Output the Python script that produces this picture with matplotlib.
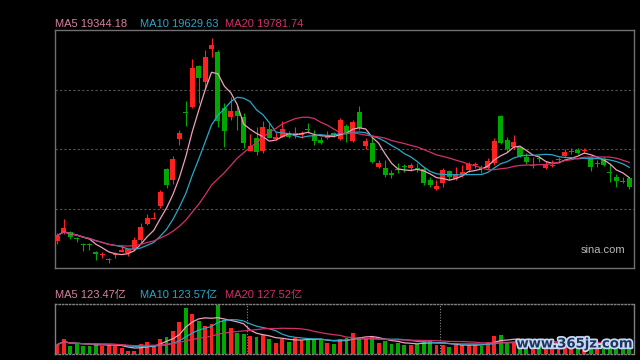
import numpy as np
import pandas as pd
import matplotlib
matplotlib.use("Agg")
import matplotlib.pyplot as plt
import matplotlib.patheffects as pe

# daily OHLC (index points) and volume (亿)
open_ = [17430, 17650, 17680, 17480, 17310, 17310, 17090, 16990, 16840, 16990,
         17100, 17050, 17190, 17450, 17940, 18070, 18470, 19580, 19250, 20480,
         21280, 21430, 22670, 22200, 23180, 23100, 21400, 21150, 21320, 21150,
         20130, 20520, 20130, 20770, 20470, 20550, 20670, 20640, 20600, 20780,
         20600, 20450, 20500, 20650, 20470, 20870, 20430, 21280, 20280, 20370,
         19650, 19600, 19470, 19580, 19660, 19610, 19590, 19570, 19250, 18990,
         19150, 19520, 19290, 19400, 19550, 19690, 19590, 19600, 19750, 21170,
         20450, 20250, 20250, 19950, 19660, 19890, 19600, 19670, 19840, 19970,
         20090, 20150, 20120, 19930, 19720, 19870, 19480, 19350, 19210, 19300]
high = [17650, 18070, 17710, 17540, 17350, 17370, 17120, 17100, 16910, 17090,
        17300, 17190, 17530, 17950, 18230, 18290, 18950, 19600, 19960, 20750,
        21630, 22880, 22700, 23150, 23500, 23150, 21550, 21750, 21500, 21260,
        20630, 20850, 21030, 20950, 20700, 21020, 20730, 20850, 20730, 20970,
        20750, 20550, 20730, 20700, 21100, 20930, 21050, 21470, 20500, 20550,
        19850, 19850, 19550, 19770, 19730, 19750, 19770, 19650, 19350, 19250,
        19600, 19550, 19650, 19700, 19800, 19800, 19700, 19900, 20500, 21200,
        20530, 20600, 20270, 20050, 19930, 19970, 19830, 19850, 19950, 20170,
        20200, 20220, 20200, 19970, 19850, 19930, 19730, 19430, 19350, 19330]
low = [17330, 17620, 17470, 17390, 17130, 17150, 16850, 16900, 16750, 16900,
       17100, 16970, 17150, 17400, 17910, 18070, 18420, 19010, 19140, 20300,
       20870, 21400, 21570, 21950, 22950, 20850, 20230, 21050, 20750, 20210,
       20120, 20000, 20070, 20500, 20450, 20530, 20500, 20500, 20500, 20650,
       20300, 20330, 20470, 20550, 20450, 20400, 20400, 20750, 20170, 19750,
       19600, 19350, 19300, 19450, 19500, 19530, 19500, 19100, 19030, 18950,
       19030, 19250, 19250, 19330, 19500, 19600, 19470, 19570, 19700, 20330,
       20100, 20170, 19930, 19720, 19600, 19800, 19570, 19650, 19750, 19950,
       20030, 20030, 20050, 19530, 19630, 19670, 19200, 19050, 19170, 18970]
close = [17580, 17810, 17540, 17470, 17290, 17290, 17030, 17000, 16860, 17010,
         17160, 17170, 17450, 17850, 18120, 18100, 18890, 19100, 19880, 20650,
         21260, 22600, 22300, 22950, 23300, 21030, 20730, 21330, 21180, 20360,
         20270, 20100, 20830, 20520, 20530, 20770, 20550, 20660, 20670, 20760,
         20430, 20370, 20600, 20600, 21050, 20650, 20980, 20800, 20420, 19800,
         19770, 19400, 19390, 19560, 19640, 19690, 19570, 19170, 19100, 19080,
         19550, 19330, 19400, 19500, 19730, 19710, 19570, 19820, 20430, 20350,
         20170, 20400, 19970, 19780, 19680, 19870, 19730, 19690, 19860, 20100,
         20110, 20070, 20140, 19630, 19740, 19700, 19460, 19230, 19190, 19030]
volume = [112, 184, 100, 120, 100, 100, 132, 100, 112, 91,
          76, 40, 40, 124, 148, 100, 184, 208, 280, 388,
          556, 484, 400, 340, 364, 592, 403, 316, 256, 244,
          220, 208, 232, 184, 136, 184, 148, 196, 172, 172,
          184, 172, 136, 124, 180, 196, 256, 208, 184, 204,
          136, 160, 124, 136, 112, 112, 124, 160, 160, 112,
          112, 88, 112, 112, 112, 112, 100, 148, 220, 232,
          136, 148, 150, 130, 120, 115, 125, 120, 140, 130,
          125, 110, 120, 140, 124, 115, 130, 120, 112, 140]

price_legend = ["MA5 19344.18", "MA10 19629.63", "MA20 19781.74"]
vol_legend = ["MA5 123.47亿", "MA10 123.57亿", "MA20 127.52亿"]

df = pd.DataFrame({"open": open_, "high": high, "low": low, "close": close, "vol": volume})
x = np.arange(len(df))
up = df.close >= df.open

RED = "#ff2020"
GREEN = "#00a800"
MA_COLORS = ["#eea0bc", "#27a8c8", "#d3306a"]
LEG_COLORS = ["#d8829e", "#2aa6c6", "#d0306a"]
FONT = ["Liberation Sans", "Noto Sans CJK SC"]

fig = plt.figure(figsize=(6.4, 3.6), dpi=100, facecolor="black")
ax = fig.add_axes([55 / 640, 1 - 268 / 360, 579 / 640, 238 / 360], facecolor="black")
axv = fig.add_axes([55 / 640, 1 - 354 / 360, 579 / 640, 50 / 360], facecolor="black")

colors = np.where(up, RED, GREEN)

# candles
ax.vlines(x, df.low, df.high, colors=colors, linewidth=0.8, zorder=2)
body_low = np.minimum(df.open, df.close)
body_h = np.maximum(np.abs(df.close - df.open), 28)
ax.bar(x, body_h, bottom=body_low, width=0.78, color=colors, linewidth=0, zorder=3)

for n, c in zip([5, 10, 20], MA_COLORS):
    ax.plot(x, df.close.rolling(n, min_periods=1).mean(), color=c, linewidth=0.9, zorder=4)

for yv in [21965, 20180, 18395]:
    ax.axhline(yv, color="#555555", linewidth=0.8, linestyle=(0, (2, 2)), zorder=1)

ax.set_xlim(-0.36, 89.74)
ax.set_ylim(16610, 23750)
ax.set_xticks([])
ax.set_yticks([])
for s in ax.spines.values():
    s.set_color("#707070")
    s.set_linewidth(1)
ax.text(0.985, 0.075, "sina.com", transform=ax.transAxes, ha="right", va="center",
        color="#b8b8b8", fontsize=8, family=FONT)

# volume
axv.bar(x, df.vol, width=0.6, color=colors, linewidth=0, zorder=2)
for n, c in zip([5, 10, 20], MA_COLORS):
    axv.plot(x, df.vol.rolling(n, min_periods=1).mean(), color=c, linewidth=0.9, zorder=3)
for xv in [29.5, 59.5]:
    axv.axvline(xv, color="#888888", linewidth=0.8, linestyle=(0, (1, 1.5)), zorder=1)
axv.set_xlim(-0.36, 89.74)
axv.set_ylim(0, 600)
axv.set_xticks([])
axv.set_yticks([])
for side, s in axv.spines.items():
    s.set_color("#808080")
    s.set_linewidth(1)
    if side in ("top", "bottom"):
        s.set_linestyle((0, (1, 1.5)))

# legends above each panel
for txt, c, px in zip(price_legend, LEG_COLORS, [55, 140, 225]):
    fig.text(px / 640, 1 - 24 / 360, txt, color=c, fontsize=8, family=FONT, va="center")
for txt, c, px in zip(vol_legend, LEG_COLORS, [55, 140, 225]):
    fig.text(px / 640, 1 - 295 / 360, txt, color=c, fontsize=8, family=FONT, va="center")

fig.text(575 / 640, 1 - 344 / 360, "www.365jz.com", color="#1c3560", fontsize=9.5,
         fontweight="bold", family="DejaVu Sans", ha="center", va="center",
         path_effects=[pe.withStroke(linewidth=2.5, foreground="#c8d8f0")])

fig.savefig("out.png", dpi=100, facecolor="black")
